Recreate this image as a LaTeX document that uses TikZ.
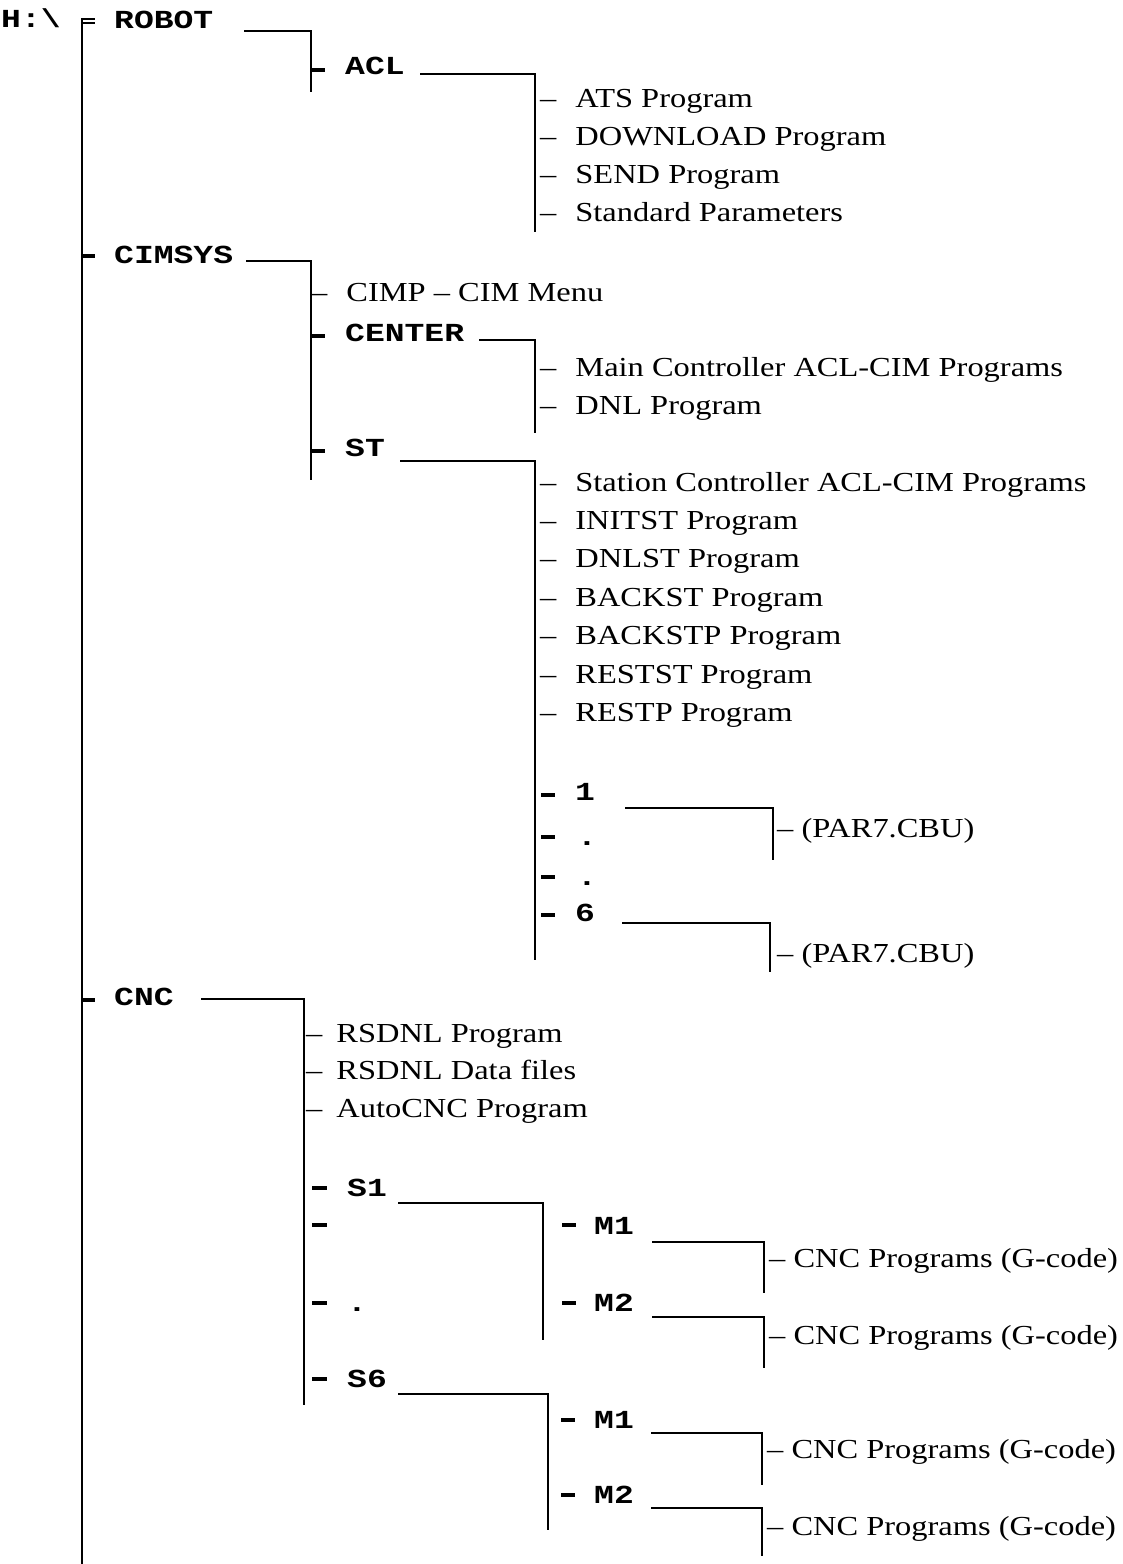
\documentclass[tikz,border=0pt]{standalone}
\usepackage{fontspec}
\newfontfamily\monof[FakeStretch=1.27]{Liberation Mono}
\newfontfamily\serf[FakeStretch=1.18]{Liberation Serif}
\newcommand{\monofont}{\monof\bfseries\fontsize{26}{30}\selectfont}
\newcommand{\serffont}{\serf\fontsize{27.5}{33}\selectfont}
\newcommand{\bg}{\hspace{19pt}}
\newcommand{\mg}{\hspace{14pt}}
\tikzset{
  mono/.style={anchor=base west, inner sep=0pt, font=\monofont},
  leaf/.style={anchor=base west, inner sep=0pt, font=\serffont},
  conn/.style={line width=2pt},
  tick/.style={line width=3.2pt},
}
\begin{document}
\begin{tikzpicture}[x=1pt,y=-1pt]
\useasboundingbox (0,0) rectangle (1123,1564);
% root
\node[mono] (root) at (1,27) {H:\textbackslash};
\coordinate (mainT) at (82,18);
\coordinate (mainB) at (82,1566);
\draw[conn] (mainT) -- (mainB);
\coordinate (rtA) at (81,18.5); \coordinate (rtB) at (95,18.5);
\coordinate (rtC) at (81,22.5); \coordinate (rtD) at (95,22.5);
\draw[line width=2pt] (rtA) -- (rtB) (rtC) -- (rtD);
% ROBOT
\node[mono] (robot) at (114,28) {ROBOT};
\coordinate (robotH) at (244,31); \coordinate (robotC) at (311,31); \coordinate (robotB) at (311,92);
\draw[conn] (robotH) -- (robotC) -- (robotB);
% ACL
\coordinate (aclT1) at (311,70); \coordinate (aclT2) at (325,70);
\draw[tick] (aclT1) -- (aclT2);
\node[mono] (acl) at (345,74) {ACL};
\coordinate (aclH) at (420,74); \coordinate (aclC) at (535,74); \coordinate (aclB) at (535,232);
\draw[conn] (aclH) -- (aclC) -- (aclB);
\node[leaf] (ats) at (540,107) {–\bg ATS Program};
\node[leaf] (dwn) at (540,145) {–\bg DOWNLOAD Program};
\node[leaf] (snd) at (540,183) {–\bg SEND Program};
\node[leaf] (std) at (540,221) {–\bg Standard Parameters};
% CIMSYS
\coordinate (cimT1) at (82,256); \coordinate (cimT2) at (95,256);
\draw[tick] (cimT1) -- (cimT2);
\node[mono] (cimsys) at (114,263) {CIMSYS};
\coordinate (cimH) at (246,261); \coordinate (cimC) at (311,261); \coordinate (cimB) at (311,480);
\draw[conn] (cimH) -- (cimC) -- (cimB);
\node[leaf] (cimp) at (311,301) {–\bg CIMP – CIM Menu};
% CENTER
\coordinate (cenT1) at (311,336); \coordinate (cenT2) at (325,336);
\draw[tick] (cenT1) -- (cenT2);
\node[mono] (center) at (345,341) {CENTER};
\coordinate (cenH) at (479,340); \coordinate (cenC) at (535,340); \coordinate (cenB) at (535,433);
\draw[conn] (cenH) -- (cenC) -- (cenB);
\node[leaf] (mcp) at (540,376) {–\bg Main Controller ACL-CIM Programs};
\node[leaf] (dnl) at (540,414) {–\bg DNL Program};
% ST
\coordinate (stT1) at (311,451); \coordinate (stT2) at (325,451);
\draw[tick] (stT1) -- (stT2);
\node[mono] (st) at (345,456) {ST};
\coordinate (stH) at (400,461); \coordinate (stC) at (535,461); \coordinate (stB) at (535,960);
\draw[conn] (stH) -- (stC) -- (stB);
\node[leaf] (scp) at (540,491) {–\bg Station Controller ACL-CIM Programs};
\node[leaf] (init) at (540,529) {–\bg INITST Program};
\node[leaf] (dnlst) at (540,567) {–\bg DNLST Program};
\node[leaf] (bst) at (540,606) {–\bg BACKST Program};
\node[leaf] (bstp) at (540,644) {–\bg BACKSTP Program};
\node[leaf] (rst) at (540,683) {–\bg RESTST Program};
\node[leaf] (rstp) at (540,721) {–\bg RESTP Program};
% stations 1 .. 6
\coordinate (s1T1) at (541,795); \coordinate (s1T2) at (555,795);
\draw[tick] (s1T1) -- (s1T2);
\node[mono] (one) at (575,800) {1};
\coordinate (oneH) at (625,808); \coordinate (oneC) at (773,808); \coordinate (oneB) at (773,860);
\draw[conn] (oneH) -- (oneC) -- (oneB);
\node[leaf] (par1) at (777,837) {– (PAR7.CBU)};
\coordinate (d1T1) at (541,837); \coordinate (d1T2) at (555,837);
\draw[tick] (d1T1) -- (d1T2);
\node[mono] (dot1) at (577,845) {.};
\coordinate (d2T1) at (541,877); \coordinate (d2T2) at (555,877);
\draw[tick] (d2T1) -- (d2T2);
\node[mono] (dot2) at (577,885) {.};
\coordinate (s6T1) at (541,915); \coordinate (s6T2) at (555,915);
\draw[tick] (s6T1) -- (s6T2);
\node[mono] (six) at (575,921) {6};
\coordinate (sixH) at (622,923); \coordinate (sixC) at (770,923); \coordinate (sixB) at (770,972);
\draw[conn] (sixH) -- (sixC) -- (sixB);
\node[leaf] (par6) at (777,962) {– (PAR7.CBU)};
% CNC
\coordinate (cncT1) at (82,1000); \coordinate (cncT2) at (95,1000);
\draw[tick] (cncT1) -- (cncT2);
\node[mono] (cnc) at (114,1005) {CNC};
\coordinate (cncH) at (201,999); \coordinate (cncC) at (304,999); \coordinate (cncB) at (304,1405);
\draw[conn] (cncH) -- (cncC) -- (cncB);
\node[leaf] (rsp) at (306,1042) {–\mg RSDNL Program};
\node[leaf] (rsd) at (306,1079) {–\mg RSDNL Data files};
\node[leaf] (auto) at (306,1117) {–\mg AutoCNC Program};
% S1
\coordinate (sa1) at (312,1188); \coordinate (sa2) at (327,1188);
\draw[tick] (sa1) -- (sa2);
\node[mono] (sone) at (347,1196) {S1};
\coordinate (soneH) at (398,1203); \coordinate (soneC) at (543,1203); \coordinate (soneB) at (543,1340);
\draw[conn] (soneH) -- (soneC) -- (soneB);
\coordinate (sb1) at (312,1225); \coordinate (sb2) at (327,1225);
\draw[tick] (sb1) -- (sb2);
\coordinate (sc1) at (312,1303); \coordinate (sc2) at (327,1303);
\draw[tick] (sc1) -- (sc2);
\node[mono] (sdot) at (347,1311) {.};
% S1 M1
\coordinate (m11a) at (562,1225); \coordinate (m11b) at (576,1225);
\draw[tick] (m11a) -- (m11b);
\node[mono] (m11) at (594,1234) {M1};
\coordinate (m11H) at (652,1242); \coordinate (m11C) at (764,1242); \coordinate (m11B) at (764,1293);
\draw[conn] (m11H) -- (m11C) -- (m11B);
\node[leaf] (g11) at (769,1267) {– CNC Programs (G-code)};
% S1 M2
\coordinate (m12a) at (562,1303); \coordinate (m12b) at (576,1303);
\draw[tick] (m12a) -- (m12b);
\node[mono] (m12) at (594,1311) {M2};
\coordinate (m12H) at (652,1317); \coordinate (m12C) at (764,1317); \coordinate (m12B) at (764,1368);
\draw[conn] (m12H) -- (m12C) -- (m12B);
\node[leaf] (g12) at (769,1344) {– CNC Programs (G-code)};
% S6
\coordinate (sd1) at (312,1379); \coordinate (sd2) at (327,1379);
\draw[tick] (sd1) -- (sd2);
\node[mono] (ssix) at (347,1387) {S6};
\coordinate (ssixH) at (398,1394); \coordinate (ssixC) at (548,1394); \coordinate (ssixB) at (548,1530);
\draw[conn] (ssixH) -- (ssixC) -- (ssixB);
% S6 M1
\coordinate (m61a) at (561,1420); \coordinate (m61b) at (575,1420);
\draw[tick] (m61a) -- (m61b);
\node[mono] (m61) at (594,1428) {M1};
\coordinate (m61H) at (651,1433); \coordinate (m61C) at (762,1433); \coordinate (m61B) at (762,1485);
\draw[conn] (m61H) -- (m61C) -- (m61B);
\node[leaf] (g61) at (767,1458) {– CNC Programs (G-code)};
% S6 M2
\coordinate (m62a) at (561,1495); \coordinate (m62b) at (575,1495);
\draw[tick] (m62a) -- (m62b);
\node[mono] (m62) at (594,1503) {M2};
\coordinate (m62H) at (651,1508); \coordinate (m62C) at (762,1508); \coordinate (m62B) at (762,1556);
\draw[conn] (m62H) -- (m62C) -- (m62B);
\node[leaf] (g62) at (767,1535) {– CNC Programs (G-code)};
\end{tikzpicture}
\end{document}
